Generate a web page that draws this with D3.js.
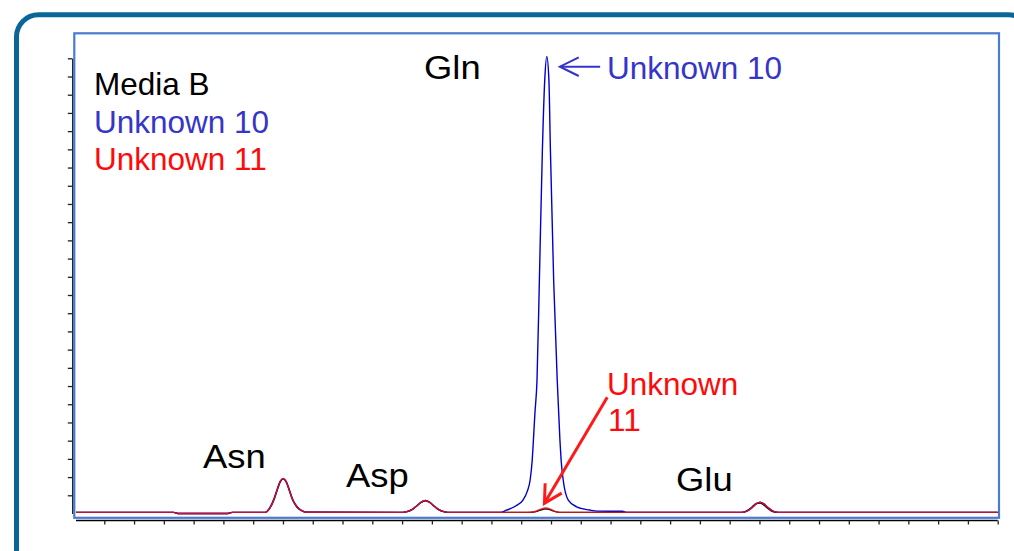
<!DOCTYPE html>
<html><head><meta charset="utf-8">
<script src="https://cdn.jsdelivr.net/npm/d3@7"></script>
<style>html,body{margin:0;padding:0;background:#fff;} svg{display:block;} text{font-family:"Liberation Sans",Arial,sans-serif;}</style>
</head><body><svg id="c" width="1014" height="551"></svg>
<script>
// ---- data (retention time axis units, signal units) ----
const time = [0.05, 3.33, 3.47, 5.15, 5.29,
  6.40, 6.56, 6.71, 6.81, 6.91, 7.01, 7.11, 7.21, 7.31, 7.46, 7.61, 7.80,
  10.93, 11.13, 11.33, 11.48, 11.63, 11.78, 11.93, 12.08, 12.23, 12.43, 12.63,
  14.30, 14.50, 14.80, 15.06, 15.20, 15.30, 15.37, 15.41, 15.46, 15.53, 15.61, 15.71, 15.79, 15.86,
  15.93, 15.98, 16.09, 16.21, 16.30, 16.34, 16.41, 16.58, 16.86, 17.30, 17.55, 18.40, 18.55,
  22.40, 22.60, 22.75, 22.90, 23.02, 23.14, 23.29, 23.44, 23.64, 31.00];

const mediaB = [0.06, 0.06, 0.00, 0.00, 0.06,
  0.06, 0.29, 0.80, 1.30, 1.74, 1.90, 1.75, 1.32, 0.84, 0.40, 0.18, 0.07,
  0.06, 0.09, 0.21, 0.40, 0.60, 0.70, 0.61, 0.40, 0.21, 0.09, 0.06,
  0.06, 0.06, 0.06, 0.06, 0.06, 0.06, 0.07, 0.08, 0.09, 0.12, 0.17, 0.22, 0.25, 0.25,
  0.23, 0.20, 0.13, 0.08, 0.06, 0.06, 0.06, 0.06, 0.06, 0.06, 0.06, 0.06, 0.06,
  0.06, 0.17, 0.36, 0.55, 0.58, 0.47, 0.27, 0.11, 0.06, 0.06];

const unknown10 = [0.06, 0.06, 0.00, 0.00, 0.06,
  0.06, 0.32, 0.86, 1.35, 1.78, 1.90, 1.72, 1.28, 0.80, 0.37, 0.17, 0.07,
  0.06, 0.09, 0.21, 0.40, 0.61, 0.71, 0.61, 0.40, 0.21, 0.09, 0.06,
  0.06, 0.18, 0.40, 0.74, 1.20, 1.84, 2.94, 4.04, 5.50, 7.30, 12.8, 19.9, 23.8, 25.1,
  23.8, 20.0, 12.8, 7.30, 4.04, 2.94, 1.84, 0.74, 0.37, 0.19, 0.13, 0.12, 0.06,
  0.06, 0.15, 0.32, 0.54, 0.62, 0.54, 0.32, 0.15, 0.06, 0.06];

const unknown11 = [0.06, 0.06, 0.00, 0.00, 0.06,
  0.06, 0.30, 0.83, 1.33, 1.77, 1.92, 1.75, 1.30, 0.82, 0.38, 0.17, 0.07,
  0.06, 0.09, 0.21, 0.40, 0.61, 0.71, 0.61, 0.40, 0.21, 0.09, 0.06,
  0.06, 0.06, 0.06, 0.06, 0.06, 0.07, 0.08, 0.09, 0.11, 0.15, 0.21, 0.27, 0.30, 0.30,
  0.27, 0.24, 0.15, 0.08, 0.06, 0.06, 0.06, 0.06, 0.06, 0.06, 0.06, 0.06, 0.06,
  0.06, 0.15, 0.32, 0.54, 0.62, 0.54, 0.32, 0.15, 0.06, 0.06];

const xTicks = d3.range(1, 32);
const yTicks = d3.range(1, 26);
const legendLabels = ["Media B", "Unknown 10", "Unknown 11"];
const peakNames = ["Asn", "Asp", "Gln", "Glu"];

// ---- layout / style ----
const colors = {"Media B": "#111111", "Unknown 10": "#0000cc", "Unknown 11": "#ee1111"};
const textColors = {"Media B": "#000000", "Unknown 10": "#3535c8", "Unknown 11": "#ff0a0a"};
const FONT = 31.5;

const svg = d3.select("#c");
svg.append("rect").attr("width", 1014).attr("height", 551).attr("fill", "#fff");

const x = d3.scaleLinear().domain([0, 31]).range([74.5, 997.7]);
const y = d3.scaleLinear().domain([0, 25]).range([513.5, 58.3]);

// outer rounded frame
svg.append("rect").attr("x", 16.5).attr("y", 14.7).attr("width", 1014).attr("height", 600)
  .attr("rx", 22).attr("fill", "none").attr("stroke", "#0a6699").attr("stroke-width", 5);

// y axis
const gy = svg.append("g").attr("transform", "translate(72.3,0)")
  .call(d3.axisLeft(y).tickValues(yTicks).tickSize(4.5).tickSizeOuter(0).tickFormat(""));
gy.select(".domain").attr("stroke", "#000").attr("stroke-width", 1.3);
gy.selectAll(".tick line").attr("stroke", "#222").attr("stroke-width", 1.3);

// x axis
const gx = svg.append("g").attr("transform", "translate(0,520.5)")
  .call(d3.axisBottom(x).tickValues(xTicks).tickSize(4).tickSizeOuter(0).tickFormat(""));
gx.select(".domain").attr("d", `M${x(0.05)},0H${x(31)}`).attr("stroke", "#000").attr("stroke-width", 1.3);
gx.selectAll(".tick line").attr("stroke", "#222").attr("stroke-width", 1.3);

// plot border
svg.append("rect").attr("x", 74.3).attr("y", 33.3).attr("width", 924.7).attr("height", 484.5)
  .attr("fill", "none").attr("stroke", "#4a7bd0").attr("stroke-width", 2.2);

// traces
const series = [
  {name: "Media B", values: mediaB},
  {name: "Unknown 10", values: unknown10},
  {name: "Unknown 11", values: unknown11}
];
const line = d3.line().x((d, i) => x(time[i])).y(d => y(d)).curve(d3.curveMonotoneX);
svg.append("g").selectAll("path").data(series).join("path")
  .attr("d", d => line(d.values))
  .attr("fill", "none")
  .attr("stroke", d => colors[d.name])
  .attr("stroke-width", 1.4)
  .attr("stroke-opacity", d => d.name === "Unknown 11" ? 0.85 : 1)
  .attr("stroke-linejoin", "round");

// legend
const legendY = [95, 133, 170];
svg.append("g").selectAll("text").data(legendLabels).join("text")
  .attr("x", 94).attr("y", (d, i) => legendY[i])
  .attr("font-size", FONT).attr("fill", d => textColors[d]).text(d => d);

// peak labels (slightly wider lettering)
const peakPos = {"Asn": [203, 468], "Asp": [346, 487], "Gln": [424, 79], "Glu": [676, 490.5]};
svg.append("g").selectAll("text").data(peakNames).join("text")
  .attr("transform", d => `translate(${peakPos[d][0]},${peakPos[d][1]}) scale(1.12,1)`)
  .attr("font-size", 32.5).attr("fill", "#000").text(d => d);

// annotations
function arrow(g, x1, y1, x2, y2, len, ang, color, w) {
  g.append("line").attr("x1", x1).attr("y1", y1).attr("x2", x2).attr("y2", y2)
    .attr("stroke", color).attr("stroke-width", w);
  const a = Math.atan2(y1 - y2, x1 - x2);
  const p1 = [x2 + len * Math.cos(a + ang), y2 + len * Math.sin(a + ang)];
  const p2 = [x2 + len * Math.cos(a - ang), y2 + len * Math.sin(a - ang)];
  g.append("path").attr("d", `M${p1[0]},${p1[1]}L${x2},${y2}L${p2[0]},${p2[1]}`)
    .attr("fill", "none").attr("stroke", color).attr("stroke-width", w).attr("stroke-linejoin", "miter");
}
const ann = svg.append("g");
// Unknown 10 arrow pointing at Gln apex
arrow(ann, x(17.65), y(24.54), x(16.30), y(24.54), 21, 0.46, "#3535c8", 2.1);
ann.append("text").attr("x", 607).attr("y", 78.5).attr("font-size", FONT)
  .attr("fill", textColors["Unknown 10"]).text("Unknown 10");
// Unknown 11 arrow pointing at small Gln peak
arrow(ann, x(17.89), y(6.38), x(15.78), y(0.56), 20, 0.5, "#ff1a1a", 3);
ann.append("text").attr("x", 607).attr("y", 394.5).attr("font-size", FONT)
  .attr("fill", textColors["Unknown 11"]).text("Unknown");
ann.append("text").attr("x", 608).attr("y", 431).attr("font-size", FONT)
  .attr("fill", textColors["Unknown 11"]).text("11");
</script></body></html>
